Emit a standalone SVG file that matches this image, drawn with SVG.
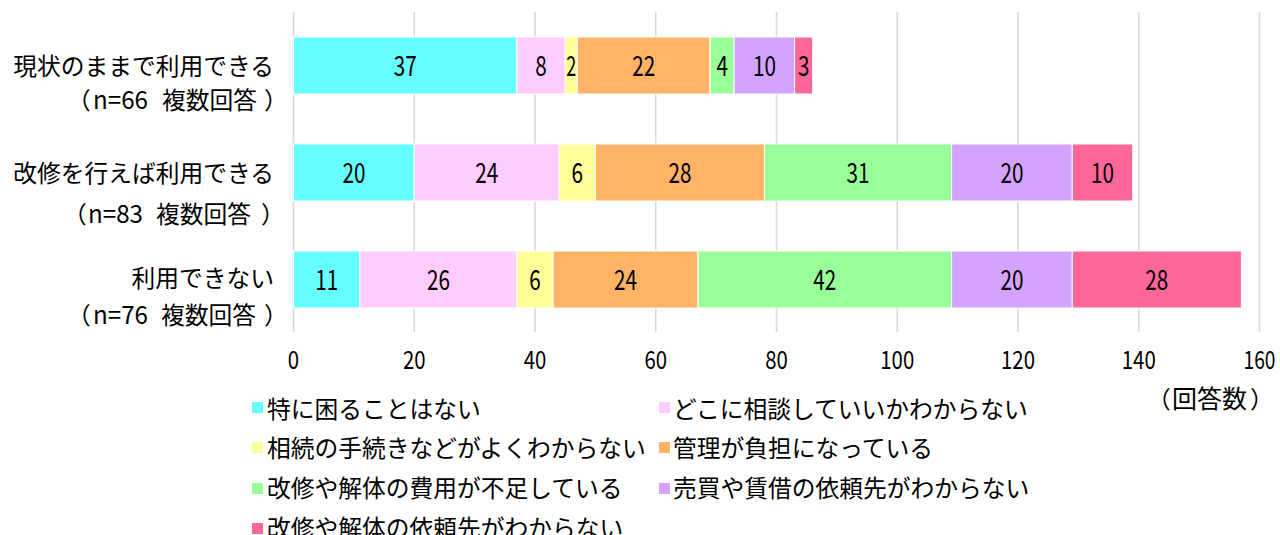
<svg xmlns="http://www.w3.org/2000/svg" width="1280" height="535" viewBox="0 0 1280 535">
<style>
text{font-family:"Noto Sans CJK JP","Noto Sans",sans-serif;fill:#000;}
.lbl{font-size:23.75px;}
.num{font-size:28px;text-anchor:middle;}
.ax{font-size:25px;text-anchor:middle;}
.leg{font-size:23.75px;}
.grid line{stroke:#d9d9d9;stroke-width:1.6;}
.seg rect{stroke:#fff;stroke-width:1;}
.c1{fill:#66ffff}.c2{fill:#ffccff}.c3{fill:#ffff99}.c4{fill:#ffb366}.c5{fill:#99ff99}.c6{fill:#d3a3ff}.c7{fill:#ff6699}
</style>
<rect width="1280" height="535" fill="#fff"/>
<g id="gridlines" class="grid">
<line x1="293.5" y1="12" x2="293.5" y2="332"/>
<line x1="414.25" y1="12" x2="414.25" y2="332"/>
<line x1="535" y1="12" x2="535" y2="332"/>
<line x1="655.75" y1="12" x2="655.75" y2="332"/>
<line x1="776.5" y1="12" x2="776.5" y2="332"/>
<line x1="897.25" y1="12" x2="897.25" y2="332"/>
<line x1="1018" y1="12" x2="1018" y2="332"/>
<line x1="1138.75" y1="12" x2="1138.75" y2="332"/>
<line x1="1259.5" y1="12" x2="1259.5" y2="332"/>
</g>
<g id="axis-labels">
<text class="ax" x="293.5" y="369" textLength="11.3" lengthAdjust="spacingAndGlyphs">0</text>
<text class="ax" x="414.25" y="369" textLength="22.6" lengthAdjust="spacingAndGlyphs">20</text>
<text class="ax" x="535" y="369" textLength="22.6" lengthAdjust="spacingAndGlyphs">40</text>
<text class="ax" x="655.75" y="369" textLength="22.6" lengthAdjust="spacingAndGlyphs">60</text>
<text class="ax" x="776.5" y="369" textLength="22.6" lengthAdjust="spacingAndGlyphs">80</text>
<text class="ax" x="897.25" y="369" textLength="34" lengthAdjust="spacingAndGlyphs">100</text>
<text class="ax" x="1018" y="369" textLength="34" lengthAdjust="spacingAndGlyphs">120</text>
<text class="ax" x="1138.75" y="369" textLength="34" lengthAdjust="spacingAndGlyphs">140</text>
<text class="ax" x="1259.5" y="369" textLength="32" lengthAdjust="spacingAndGlyphs">160</text>
<text class="lbl" x="1147" y="408">（<tspan x="1172" font-size="25">回答数</tspan><tspan x="1250">）</tspan></text>
</g>
<g id="row1">
<text class="lbl" x="274" y="75" text-anchor="end">現状のままで利用できる</text>
<text class="lbl" x="67" y="109">（<tspan x="93" font-size="25" textLength="55" lengthAdjust="spacingAndGlyphs">n=66</tspan> <tspan x="162">複数回答</tspan><tspan x="264">）</tspan></text>
<g class="seg">
<rect class="c1" x="293.5" y="37" width="223.4" height="57"/>
<rect class="c2" x="516.9" y="37" width="48.3" height="57"/>
<rect class="c3" x="565.2" y="37" width="12.1" height="57"/>
<rect class="c4" x="577.3" y="37" width="132.8" height="57"/>
<rect class="c5" x="710.1" y="37" width="24.1" height="57"/>
<rect class="c6" x="734.2" y="37" width="60.4" height="57"/>
<rect class="c7" x="794.6" y="37" width="18.1" height="57"/>
</g>
<text class="num" x="405.2" y="76" textLength="23" lengthAdjust="spacingAndGlyphs">37</text>
<text class="num" x="541.05" y="76" textLength="11.5" lengthAdjust="spacingAndGlyphs">8</text>
<text class="num" x="571.25" y="76" textLength="10" lengthAdjust="spacingAndGlyphs">2</text>
<text class="num" x="643.7" y="76" textLength="23" lengthAdjust="spacingAndGlyphs">22</text>
<text class="num" x="722.15" y="76" textLength="11.5" lengthAdjust="spacingAndGlyphs">4</text>
<text class="num" x="764.4" y="76" textLength="23" lengthAdjust="spacingAndGlyphs">10</text>
<text class="num" x="803.65" y="76" textLength="11.5" lengthAdjust="spacingAndGlyphs">3</text>
</g>
<g id="row2">
<text class="lbl" x="274" y="182" text-anchor="end">改修を行えば利用できる</text>
<text class="lbl" x="63" y="223">（<tspan x="88" font-size="25" textLength="55" lengthAdjust="spacingAndGlyphs">n=83</tspan> <tspan x="156">複数回答</tspan><tspan x="261">）</tspan></text>
<g class="seg">
<rect class="c1" x="293.5" y="144" width="120.75" height="57"/>
<rect class="c2" x="414.25" y="144" width="144.9" height="57"/>
<rect class="c3" x="559.15" y="144" width="36.25" height="57"/>
<rect class="c4" x="595.4" y="144" width="169" height="57"/>
<rect class="c5" x="764.4" y="144" width="187.2" height="57"/>
<rect class="c6" x="951.6" y="144" width="120.7" height="57"/>
<rect class="c7" x="1072.3" y="144" width="60.4" height="57"/>
</g>
<text class="num" x="353.9" y="183" textLength="23" lengthAdjust="spacingAndGlyphs">20</text>
<text class="num" x="486.7" y="183" textLength="23" lengthAdjust="spacingAndGlyphs">24</text>
<text class="num" x="577.3" y="183" textLength="11.5" lengthAdjust="spacingAndGlyphs">6</text>
<text class="num" x="679.9" y="183" textLength="23" lengthAdjust="spacingAndGlyphs">28</text>
<text class="num" x="858" y="183" textLength="23" lengthAdjust="spacingAndGlyphs">31</text>
<text class="num" x="1011.95" y="183" textLength="23" lengthAdjust="spacingAndGlyphs">20</text>
<text class="num" x="1102.5" y="183" textLength="23" lengthAdjust="spacingAndGlyphs">10</text>
</g>
<g id="row3">
<text class="lbl" x="274" y="287" text-anchor="end">利用できない</text>
<text class="lbl" x="67" y="324">（<tspan x="93" font-size="25" textLength="55" lengthAdjust="spacingAndGlyphs">n=76</tspan> <tspan x="161">複数回答</tspan><tspan x="264">）</tspan></text>
<g class="seg">
<rect class="c1" x="293.5" y="251" width="66.4" height="57"/>
<rect class="c2" x="359.9" y="251" width="157" height="57"/>
<rect class="c3" x="516.9" y="251" width="36.2" height="57"/>
<rect class="c4" x="553.1" y="251" width="144.9" height="57"/>
<rect class="c5" x="698" y="251" width="253.6" height="57"/>
<rect class="c6" x="951.6" y="251" width="120.7" height="57"/>
<rect class="c7" x="1072.3" y="251" width="169.1" height="57"/>
</g>
<text class="num" x="326.7" y="290" textLength="23" lengthAdjust="spacingAndGlyphs">11</text>
<text class="num" x="438.4" y="290" textLength="23" lengthAdjust="spacingAndGlyphs">26</text>
<text class="num" x="535" y="290" textLength="11.5" lengthAdjust="spacingAndGlyphs">6</text>
<text class="num" x="625.55" y="290" textLength="23" lengthAdjust="spacingAndGlyphs">24</text>
<text class="num" x="824.8" y="290" textLength="23" lengthAdjust="spacingAndGlyphs">42</text>
<text class="num" x="1011.95" y="290" textLength="23" lengthAdjust="spacingAndGlyphs">20</text>
<text class="num" x="1156.85" y="290" textLength="23" lengthAdjust="spacingAndGlyphs">28</text>
</g>
<g id="legend">
<rect class="c1" x="252" y="402" width="11" height="11"/>
<text class="leg" x="267" y="418">特に困ることはない</text>
<rect class="c2" x="659" y="402" width="11" height="11"/>
<text class="leg" x="673" y="418">どこに相談していいかわからない</text>
<rect class="c3" x="252" y="442" width="11" height="11"/>
<text class="leg" x="267" y="457">相続の手続きなどがよくわからない</text>
<rect class="c4" x="659" y="442" width="11" height="11"/>
<text class="leg" x="673" y="457">管理が負担になっている</text>
<rect class="c5" x="252" y="483" width="11" height="11"/>
<text class="leg" x="267" y="497">改修や解体の費用が不足している</text>
<rect class="c6" x="659" y="483" width="11" height="11"/>
<text class="leg" x="673" y="497">売買や賃借の依頼先がわからない</text>
<rect class="c7" x="252" y="523" width="11" height="11"/>
<text class="leg" x="267" y="537">改修や解体の依頼先がわからない</text>
</g>
</svg>
